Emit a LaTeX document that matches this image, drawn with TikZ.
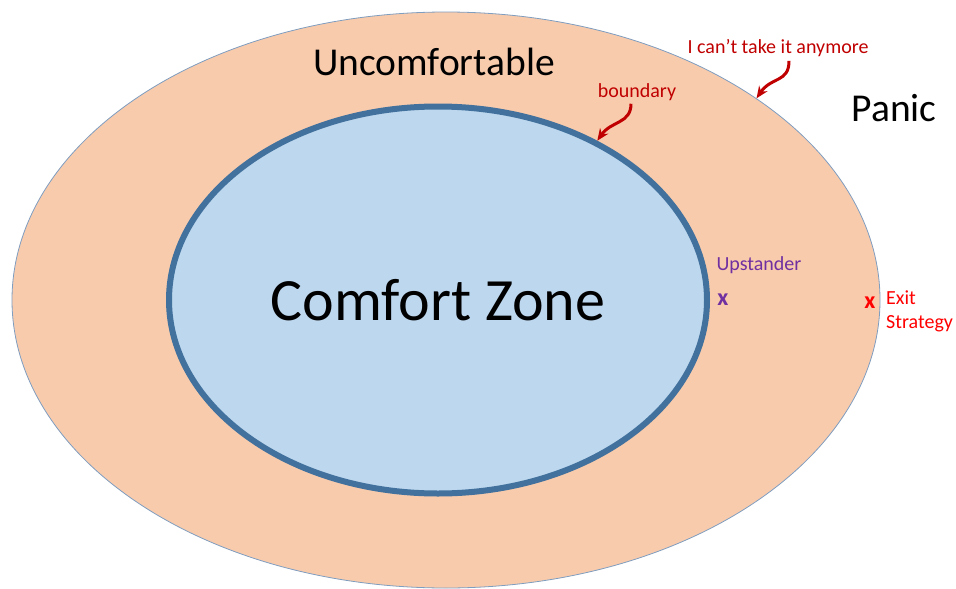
\documentclass[tikz,border=0pt]{standalone}
\usepackage{fontspec}
\setmainfont{Carlito}
\usetikzlibrary{arrows.meta,shapes.geometric}
\definecolor{ZonePeach}{HTML}{F8CBAD}
\definecolor{ZoneRim}{HTML}{7F9DBF}
\definecolor{ZoneBlue}{HTML}{BDD7EE}
\definecolor{ZoneEdge}{HTML}{41719C}
\definecolor{ZoneRed}{HTML}{C00000}
\definecolor{ZonePurple}{HTML}{7030A0}
\definecolor{ZoneBright}{HTML}{FF0000}
\tikzset{
  zone/.style={ellipse, inner sep=0pt},
  outerzone/.style={zone, fill=ZonePeach, draw=ZoneRim, line width=0.8pt,
                    minimum width=868pt, minimum height=576pt},
  innerzone/.style={zone, fill=ZoneBlue, draw=ZoneEdge, line width=6pt,
                    minimum width=538pt, minimum height=387pt,
                    font=\fontsize{60}{72}\selectfont},
  title/.style={font=\fontsize{39.5}{46}\selectfont, inner sep=0pt},
  remark/.style={font=\fontsize{20}{24}\selectfont, inner sep=0pt, text=ZoneRed},
  cross/.style={font=\fontsize{24}{28}\selectfont\bfseries, inner sep=0pt},
  curl/.style={-{Stealth[length=12pt,width=10pt]}, line width=3pt, draw=ZoneRed},
}
\begin{document}
\begin{tikzpicture}[x=1pt,y=-1pt]
    \useasboundingbox (0,0) rectangle (956,589);
    \node[outerzone] (zone) at (446,300) {};
    \node[innerzone] (comfort) at (438,300) {Comfort Zone};
    \node[title] (uncomf) at (434,62) {Uncomfortable};
    \node[title] (panic) at (894,108) {Panic};
    \node[remark] (cant) at (778,48) {I can’t take it anymore};
    \node[remark] (bnd) at (637,92) {boundary};
    \node[remark,text=ZonePurple] (upst) at (759,265) {Upstander};
    \node[cross,text=ZonePurple] (upx) at (723,300) {x};
    \node[cross,text=ZoneBright] (exitx) at (870,303) {x};
    \node[remark,text=ZoneBright,anchor=west,align=left] (exitlbl) at (886,311) {Exit\\Strategy};
    \draw[curl] ([xshift=11pt,yshift=-4pt]cant.south) .. controls +(0,22) and +(15,-22) .. (zone.33);
    \draw[curl] ([xshift=-6pt,yshift=-3pt]bnd.south) .. controls +(0,20) and +(14,-20) .. (comfort.45);
  \end{tikzpicture}
\end{document}
